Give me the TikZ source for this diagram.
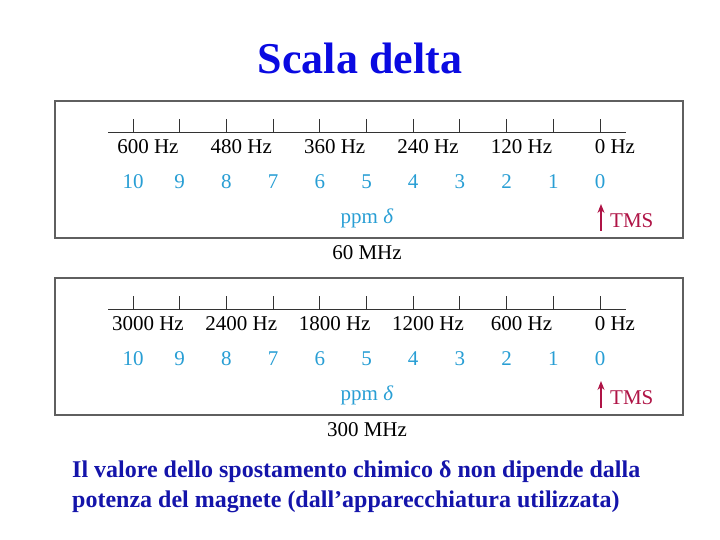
\documentclass[tikz,border=0pt]{standalone}
\usepackage{fontspec}
\setmainfont{Liberation Serif}
\usetikzlibrary{arrows.meta}
\definecolor{titleblue}{RGB}{10,10,225}
\definecolor{ppmblue}{RGB}{40,158,212}
\definecolor{tmsred}{RGB}{175,20,70}
\definecolor{textblue}{RGB}{20,20,170}
\definecolor{framegray}{RGB}{95,95,95}
\begin{document}
\begin{tikzpicture}[x=1pt,y=-1pt,
  frame/.style={draw=framegray,line width=1.6pt,rectangle,minimum width=628pt,minimum height=137pt,inner sep=0pt},
  axisline/.style={draw=black!80,line width=0.9pt},
  hzlabel/.style={font=\fontsize{21}{24}\selectfont,inner sep=0pt,text=black},
  ppmnum/.style={font=\fontsize{21}{24}\selectfont,inner sep=0pt,text=ppmblue},
  ppmtext/.style={font=\fontsize{21}{24}\selectfont,inner sep=0pt,text=ppmblue},
  tmstext/.style={font=\fontsize{21}{24}\selectfont,inner sep=0pt,text=tmsred,anchor=west},
  tmsarrow/.style={draw=tmsred,line width=1.3pt,-{Stealth[length=9pt,width=7pt]}},
  mhz/.style={font=\fontsize{21}{24}\selectfont,inner sep=0pt},
]
\useasboundingbox (0,0) rectangle (720,540);
\node[text=titleblue,font=\bfseries\fontsize{44}{50}\selectfont,inner sep=0pt] (title) at (360,58) {Scala delta};

\foreach \p/\top/\mhzt/\hzlist in {a/101/60 MHz/{600,480,360,240,120,0}, b/278/300 MHz/{3000,2400,1800,1200,600,0}}{
  \begin{scope}[yshift=-(\top-101)*1pt]
    \node[frame] (box\p) at (369,169.5) {};
    \coordinate (axL\p) at (108,132);
    \coordinate (axR\p) at (626,132);
    \draw[axisline] (axL\p) -- (axR\p);
    \foreach \i in {0,...,10}{
      \coordinate (tk\p\i) at (600-46.7*\i,132);
      \draw[axisline] (tk\p\i) -- ++(0,-13);
      \node[ppmnum] (n\p\i) at (600-46.7*\i,182) {\i};
    }
    \foreach \h [count=\k from 0] in \hzlist{
      \node[hzlabel] (hz\p\k) at (133+93.4*\k,147) {\h\rlap{~Hz}};
    }
    \node[ppmtext] (ppm\p) at (367,218) {ppm \textit{δ}};
    \coordinate (tmsb\p) at (601,231);
    \coordinate (tmst\p) at (601,204);
    \draw[tmsarrow] (tmsb\p) -- (tmst\p);
    \node[tmstext] (tms\p) at (610,220.5) {TMS};
    \node[mhz] (mhz\p) at (367,253) {\mhzt};
  \end{scope}
}

\node[text=textblue,font=\bfseries\fontsize{24}{30}\selectfont,align=left,anchor=west,inner sep=0pt] (caption) at (72,487)
  {Il valore dello spostamento chimico δ non dipende dalla\\potenza del magnete (dall’apparecchiatura utilizzata)};
\end{tikzpicture}
\end{document}
